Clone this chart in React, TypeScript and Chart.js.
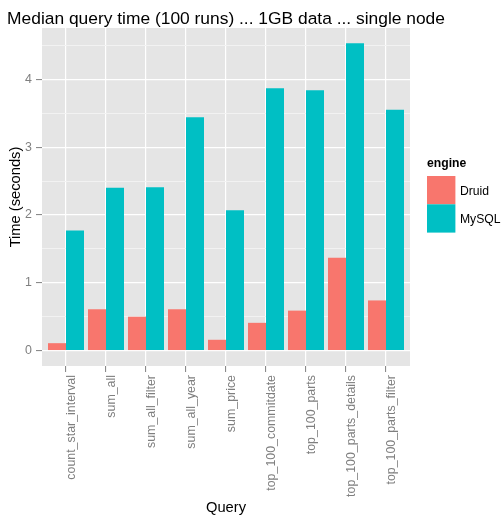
import React, { useEffect, useRef } from "react";
import { Chart, registerables } from "chart.js";

Chart.register(...registerables);

const categories = [
  "count_star_interval",
  "sum_all",
  "sum_all_filter",
  "sum_all_year",
  "sum_price",
  "top_100_commitdate",
  "top_100_parts",
  "top_100_parts_details",
  "top_100_parts_filter",
];
const druidValues = [0.11, 0.61, 0.5, 0.61, 0.16, 0.41, 0.59, 1.37, 0.74];
const mysqlValues = [1.77, 2.4, 2.41, 3.44, 2.07, 3.87, 3.84, 4.53, 3.55];
const seriesNames = ["Druid", "MySQL"];
const seriesColors = ["#F8766D", "#00BFC4"];
const yTickValues = [0, 0.5, 1, 1.5, 2, 2.5, 3, 3.5, 4, 4.5];
const titleText = "Median query time (100 runs) ... 1GB data ... single node";
const legendTitle = "engine";

const FONT = "'Liberation Sans', Arial, Helvetica, sans-serif";

const panelBg = {
  id: "panelBg",
  beforeDraw(chart: any) {
    const { ctx, chartArea } = chart;
    ctx.save();
    ctx.fillStyle = "#E5E5E5";
    ctx.fillRect(chartArea.left, chartArea.top, chartArea.right - chartArea.left, chartArea.bottom - chartArea.top);
    ctx.restore();
  },
};

const ggTitle = {
  id: "ggTitle",
  afterDraw(chart: any) {
    const { ctx, chartArea } = chart;
    ctx.save();
    ctx.fillStyle = "#000000";
    ctx.font = `17.4px ${FONT}`;
    ctx.textAlign = "center";
    ctx.textBaseline = "alphabetic";
    ctx.fillText(titleText, (chartArea.left + chartArea.right) / 2, 24);
    ctx.restore();
  },
};

const ggLegend = {
  id: "ggLegend",
  afterDraw(chart: any) {
    const { ctx, chartArea } = chart;
    const x0 = chartArea.right + 17;
    ctx.save();
    ctx.fillStyle = "#000000";
    ctx.textBaseline = "alphabetic";
    ctx.textAlign = "left";
    ctx.font = `bold 12.2px ${FONT}`;
    ctx.fillText(legendTitle, x0, 166.5);
    const keyTop = 176;
    const keyH = 28.3;
    const keyW = 28.4;
    chart.data.datasets.forEach((ds: any, i: number) => {
      const top = keyTop + i * keyH;
      ctx.fillStyle = ds.backgroundColor;
      ctx.fillRect(x0, top, keyW, keyH);
      ctx.fillStyle = "#000000";
      ctx.font = `12.2px ${FONT}`;
      ctx.textBaseline = "middle";
      ctx.fillText(ds.label, x0 + keyW + 4.5, top + keyH / 2 + 1);
    });
    ctx.restore();
  },
};

export default function App() {
  const canvasRef = useRef<HTMLCanvasElement | null>(null);

  useEffect(() => {
    document.body.style.margin = "0";
    const canvas = canvasRef.current;
    if (!canvas) return;
    const datasets = [druidValues, mysqlValues].map((vals, s) => ({
      label: seriesNames[s],
      data: vals.map((v, i) => ({ x: i + 1, y: v })),
      backgroundColor: seriesColors[s],
      borderWidth: 0,
      categoryPercentage: 0.9,
      barPercentage: 1.0,
    }));
    const chart = new Chart(canvas, {
      type: "bar",
      data: { datasets },
      plugins: [panelBg, ggTitle, ggLegend],
      options: {
        animation: false,
        responsive: true,
        maintainAspectRatio: false,
        layout: { padding: { top: 28, right: 91, bottom: 0, left: 0 } },
        plugins: {
          legend: { display: false },
          tooltip: { enabled: false },
          title: { display: false },
        },
        scales: {
          x: {
            type: "linear",
            min: 0.4,
            max: 9.6,
            offset: false,
            afterBuildTicks: (scale: any) => {
              scale.ticks = categories.map((_, i) => ({ value: i + 1 }));
            },
            afterFit: (scale: any) => {
              scale.height = 151;
            },
            border: { display: false },
            grid: {
              offset: false,
              color: "#FFFFFF",
              lineWidth: 1.2,
              tickColor: "#7F7F7F",
              tickLength: 6,
              tickWidth: 1,
            },
            ticks: {
              autoSkip: false,
              minRotation: 90,
              maxRotation: 90,
              padding: 3,
              labelOffset: 6,
              color: "#7F7F7F",
              font: { family: FONT, size: 12.4 },
              callback: (value: any) => categories[Math.round(Number(value)) - 1] ?? "",
            },
            title: {
              display: true,
              text: "Query",
              color: "#000000",
              font: { family: FONT, size: 14.7 },
              padding: { top: 0, bottom: 0 },
            },
          },
          y: {
            type: "linear",
            min: -0.2265,
            max: 4.7565,
            afterBuildTicks: (scale: any) => {
              scale.ticks = yTickValues.map((v) => ({ value: v }));
            },
            afterFit: (scale: any) => {
              scale.width = 42;
            },
            border: { display: false },
            grid: {
              color: (ctx: any) => (Number.isInteger(ctx.tick?.value) ? "#FFFFFF" : "#F2F2F2"),
              lineWidth: (ctx: any) => (Number.isInteger(ctx.tick?.value) ? 1.2 : 1),
              tickColor: (ctx: any) => (Number.isInteger(ctx.tick?.value) ? "#7F7F7F" : "rgba(0,0,0,0)"),
              tickLength: 6,
              tickWidth: 1,
            },
            ticks: {
              padding: 4,
              color: "#7F7F7F",
              font: { family: FONT, size: 12.4 },
              callback: (value: any) => (Number.isInteger(Number(value)) ? String(value) : ""),
            },
            title: {
              display: true,
              text: "Time (seconds)",
              color: "#000000",
              font: { family: FONT, size: 14.7 },
              padding: { top: 7, bottom: 0 },
            },
          },
        },
      } as any,
    });
    return () => chart.destroy();
  }, []);

  return (
    <div style={{ width: 501, height: 517, position: "relative" }}>
      <canvas ref={canvasRef} />
    </div>
  );
}
